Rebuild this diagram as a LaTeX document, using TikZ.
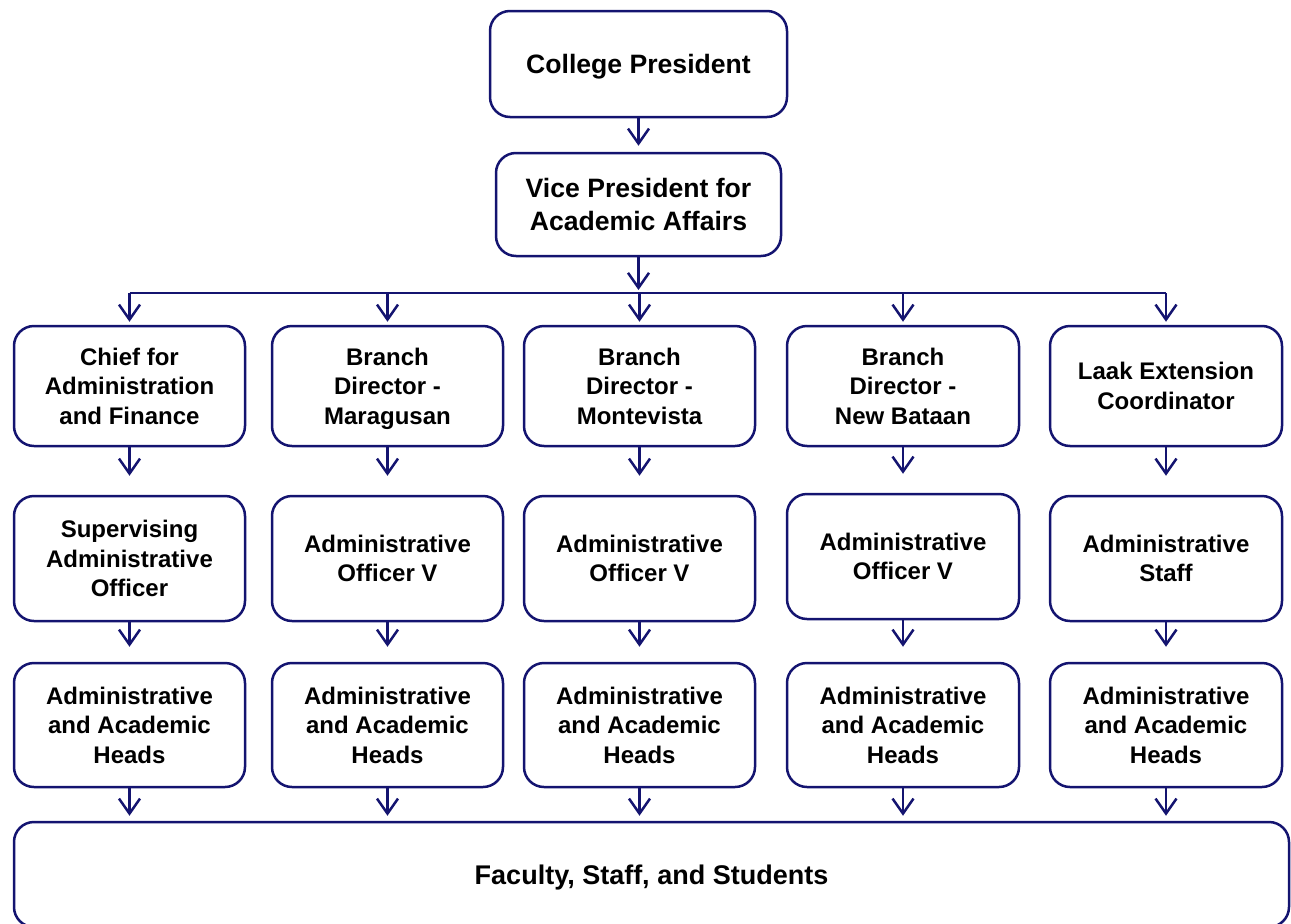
\documentclass[tikz,border=0pt]{standalone}
\usepackage{fontspec}
\setmainfont{Liberation Sans}
\usetikzlibrary{arrows.meta}
\definecolor{navy}{RGB}{20,20,112}
\begin{document}
\begin{tikzpicture}[x=1pt,y=-1pt,
  box/.style={draw=navy, line width=2.5pt, rounded corners=20pt, align=center,
    font=\fontsize{24}{29.5}\selectfont\bfseries, inner sep=0pt,
    text depth=0pt, minimum width=231pt},
  bigbox/.style={box, font=\fontsize{26.6}{32.7}\selectfont\bfseries},
  row1/.style={box, minimum height=120pt},
  row2/.style={box, minimum height=125pt},
  row3/.style={box, minimum height=124pt},
  link/.style={draw=navy, line width=2.5pt},
  arr/.style={link, -{Straight Barb[length=15pt,width=21pt,line width=2.5pt]}},
]
\useasboundingbox (0,0) rectangle (1291,924);

% top of the hierarchy
\node[bigbox, minimum width=297pt, minimum height=106pt] (cp) at (638.5,64) {College President};
\node[bigbox, minimum width=285pt, minimum height=103pt] (vp) at (638.5,204.5) {Vice President for\\Academic Affairs};

% first row: heads of units
\node[row1] (a1) at (129.5,386) {Chief for\\Administration\\and Finance};
\node[row1] (a2) at (387.5,386) {Branch\\Director -\\Maragusan};
\node[row1] (a3) at (639.5,386) {Branch\\Director -\\Montevista};
\node[row1, minimum width=232pt] (a4) at (903,386) {Branch\\Director -\\New Bataan};
\node[row1, minimum width=232pt] (a5) at (1166,386) {Laak Extension\\Coordinator};

% second row: officers
\node[row2] (b1) at (129.5,558.5) {Supervising\\Administrative\\Officer};
\node[row2] (b2) at (387.5,558.5) {Administrative\\Officer V};
\node[row2] (b3) at (639.5,558.5) {Administrative\\Officer V};
\node[row2, minimum width=232pt] (b4) at (903,556.5) {Administrative\\Officer V};
\node[row2, minimum width=232pt] (b5) at (1166,558.5) {Administrative\\Staff};

% third row: heads
\node[row3] (c1) at (129.5,725) {Administrative\\and Academic\\Heads};
\node[row3] (c2) at (387.5,725) {Administrative\\and Academic\\Heads};
\node[row3] (c3) at (639.5,725) {Administrative\\and Academic\\Heads};
\node[row3, minimum width=232pt] (c4) at (903,725) {Administrative\\and Academic\\Heads};
\node[row3, minimum width=232pt] (c5) at (1166,725) {Administrative\\and Academic\\Heads};

% everyone else
\node[bigbox, font=\fontsize{27}{33}\selectfont\bfseries, minimum width=1275pt, minimum height=105pt] (fs) at (651.5,874.5) {Faculty, Staff, and Students};

% connectors
\coordinate (bus) at (638.5,293);
\draw[arr, shorten >=6pt] (cp) -- (vp);
\draw[arr, shorten >=3pt] (vp) -- (bus);
\draw[link] (a1.north |- bus) -- (a5.north |- bus);
\foreach \i in {1,...,5} {
  \draw[arr, shorten >=3pt] (a\i.north |- bus) -- (a\i.north);
  \draw[arr, shorten >=19pt] (a\i) -- (b\i);
  \draw[arr, shorten >=15pt] (b\i) -- (c\i);
  \draw[arr, shorten >=5pt] (c\i.south) -- (c\i.south |- fs.north);
}
\end{tikzpicture}
\end{document}
